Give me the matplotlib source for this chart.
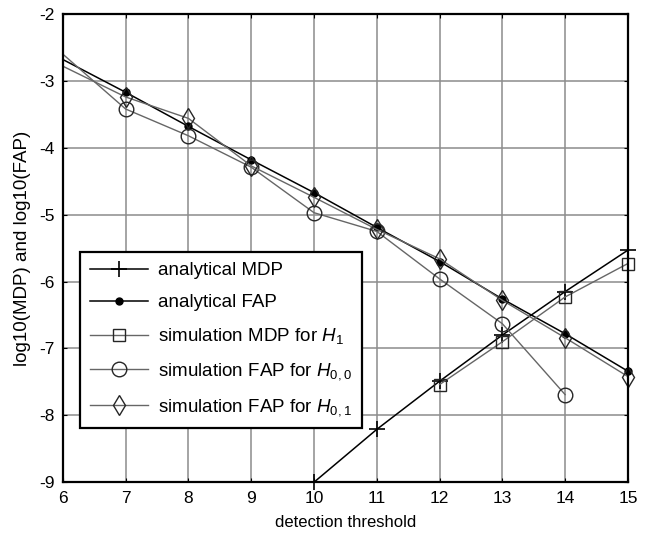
import matplotlib.pyplot as plt
import numpy as np

plt.rcParams['font.family'] = ['Liberation Sans', 'DejaVu Sans']
plt.rcParams['mathtext.fontset'] = 'custom'
plt.rcParams['mathtext.rm'] = 'Liberation Sans'
plt.rcParams['mathtext.it'] = 'Liberation Sans:italic'
plt.rcParams['axes.unicode_minus'] = False

# umbral de deteccion y curvas log10
thr_mdp = [10, 11, 12, 13, 14, 15]
mdp_analytical = [-9.0, -8.21, -7.49, -6.80, -6.15, -5.53]

thr_fap = [6, 7, 8, 9, 10, 11, 12, 13, 14, 15]
fap_analytical = [-2.68, -3.17, -3.68, -4.18, -4.67, -5.19, -5.70, -6.26, -6.78, -7.34]

thr_sim_mdp = [12, 13, 14, 15]
mdp_sim_h1 = [-7.54, -6.90, -6.23, -5.73]

thr_sim_h00 = [6, 7, 8, 9, 10, 11, 12, 13, 14]
fap_sim_h00 = [-2.60, -3.42, -3.82, -4.29, -4.97, -5.25, -5.96, -6.63, -7.69]

thr_sim_h01 = [6, 7, 8, 9, 10, 11, 12, 13, 14, 15]
fap_sim_h01 = [-2.78, -3.24, -3.56, -4.27, -4.74, -5.22, -5.66, -6.28, -6.84, -7.42]

fig = plt.figure(figsize=(6.48, 5.4), dpi=100)
ax = fig.add_axes([0.097, 0.107, 0.872, 0.867])

skip_first = slice(1, None)  # sin marcador en el borde x=6
ax.plot(thr_mdp, mdp_analytical, color='black', lw=1.1, marker='+', ms=11,
        mew=1.2, clip_on=False, label='analytical MDP')
ax.plot(thr_fap, fap_analytical, color='black', lw=1.1, marker='o', ms=5,
        mfc='black', markevery=skip_first, clip_on=False, label='analytical FAP')
sim = dict(color='0.4', lw=1.0, mfc='none', mec='0.15', mew=1.0, clip_on=False)
ax.plot(thr_sim_mdp, mdp_sim_h1, marker='s', ms=9,
        label='simulation MDP for $H_1$', **sim)
ax.plot(thr_sim_h00, fap_sim_h00, marker='o', ms=10.5, markevery=skip_first,
        label='simulation FAP for $H_{0,0}$', **sim)
ax.plot(thr_sim_h01, fap_sim_h01, marker='d', ms=10.5, markevery=skip_first,
        label='simulation FAP for $H_{0,1}$', **sim)

ax.set_xlim(6, 15)
ax.set_ylim(-9, -2)
ax.set_xticks(np.arange(6, 16))
ax.set_yticks(np.arange(-9, -1))
ax.grid(True, color='0.55', lw=1.1)
ax.tick_params(direction='in', top=True, right=True, length=3, labelsize=12.5, pad=6)
for s in ax.spines.values():
    s.set_linewidth(1.6)

ax.set_xlabel('detection threshold', fontsize=12, labelpad=7)
ax.set_ylabel('log10(MDP) and log10(FAP)', fontsize=13.5, labelpad=6)

leg = ax.legend(loc='lower left', bbox_to_anchor=(0.03, 0.115), fancybox=False,
                edgecolor='black', framealpha=1, fontsize=13.5, handlelength=3.1,
                handletextpad=0.5, borderaxespad=0, labelspacing=0.8,
                borderpad=0.55)
leg.get_frame().set_linewidth(1.6)

fig.savefig('out.png', dpi=100)
